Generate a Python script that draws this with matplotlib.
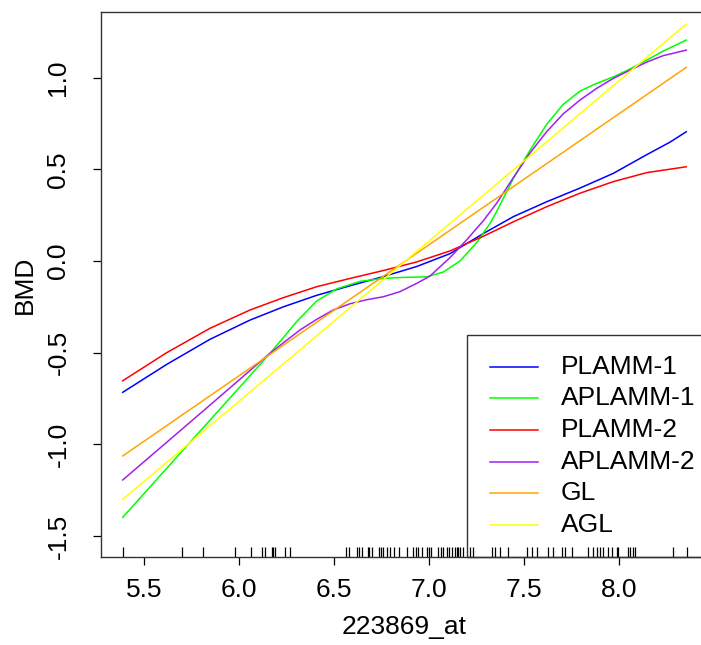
import numpy as np
import matplotlib.pyplot as plt
from matplotlib.patches import Rectangle
from matplotlib.lines import Line2D
import matplotlib.transforms as mtransforms

plt.rcParams['font.family'] = ['Liberation Sans', 'DejaVu Sans']

# fitted curves
plamm1_x = [5.388, 5.619, 5.847, 6.058, 6.233, 6.409, 6.584, 6.759, 6.935, 7.11, 7.286, 7.444, 7.619, 7.795, 7.97, 8.146, 8.268, 8.354]
plamm1_y = [-0.716, -0.564, -0.427, -0.322, -0.25, -0.187, -0.135, -0.085, -0.03, 0.04, 0.15, 0.242, 0.323, 0.398, 0.478, 0.58, 0.648, 0.705]

plamm2_x = [5.388, 5.619, 5.847, 6.058, 6.233, 6.409, 6.584, 6.759, 6.935, 7.11, 7.286, 7.444, 7.619, 7.795, 7.97, 8.146, 8.354]
plamm2_y = [-0.653, -0.50, -0.367, -0.267, -0.20, -0.14, -0.095, -0.052, -0.005, 0.055, 0.135, 0.214, 0.296, 0.37, 0.433, 0.482, 0.514]

aplamm1_x = [5.388, 5.619, 5.847, 6.093, 6.163, 6.233, 6.304, 6.409, 6.514, 6.637, 6.759, 6.847, 6.988, 7.075, 7.163,
             7.251, 7.321, 7.356, 7.444, 7.532, 7.619, 7.707, 7.795, 7.883, 7.97, 8.058, 8.146, 8.233, 8.354]
aplamm1_y = [-1.398, -1.131, -0.868, -0.585, -0.503, -0.418, -0.33, -0.218, -0.152, -0.111, -0.095, -0.090, -0.086, -0.06, 0.0,
             0.10, 0.205, 0.27, 0.45, 0.605, 0.745, 0.855, 0.927, 0.969, 1.004, 1.047, 1.096, 1.145, 1.205]

aplamm2_x = [5.388, 5.619, 5.847, 6.163, 6.321, 6.409, 6.496, 6.584, 6.672, 6.759, 6.847, 6.935, 7.005, 7.11, 7.198,
             7.286, 7.356, 7.444, 7.532, 7.619, 7.707, 7.795, 7.883, 7.97, 8.058, 8.146, 8.233, 8.354]
aplamm2_y = [-1.194, -0.989, -0.786, -0.503, -0.376, -0.318, -0.267, -0.233, -0.211, -0.195, -0.167, -0.122, -0.082, 0.018, 0.115,
             0.22, 0.315, 0.455, 0.59, 0.705, 0.803, 0.878, 0.942, 0.996, 1.041, 1.085, 1.12, 1.15]

gl_x = [5.388, 8.354]
gl_y = [-1.063, 1.056]

agl_x = [5.388, 8.354]
agl_y = [-1.30, 1.292]

# observed expression values (rug)
rug_x = [5.388, 5.700, 5.809, 5.981, 6.062, 6.119, 6.135, 6.172, 6.181, 6.189, 6.241, 6.270,
         6.562, 6.579, 6.619, 6.633, 6.649, 6.677, 6.686, 6.698, 6.738, 6.747, 6.759, 6.777,
         6.795, 6.816, 6.842, 6.883, 6.917, 6.932, 6.944, 6.962, 6.988, 7.000, 7.011, 7.049,
         7.063, 7.075, 7.093, 7.107, 7.119, 7.137, 7.146, 7.154, 7.163, 7.181, 7.216, 7.233,
         7.330, 7.347, 7.374, 7.417, 7.514, 7.541, 7.567, 7.628, 7.654, 7.698, 7.716, 7.751,
         7.838, 7.865, 7.883, 7.900, 7.917, 7.944, 7.962, 7.988, 7.996, 8.049, 8.058, 8.075,
         8.084, 8.286, 8.356]

names = ["PLAMM-1", "APLAMM-1", "PLAMM-2", "APLAMM-2", "GL", "AGL"]
colors = ["#0000FF", "#00FF00", "#FF0000", "#A020F0", "#FFA500", "#FFFF00"]
series = [(plamm1_x, plamm1_y), (aplamm1_x, aplamm1_y), (plamm2_x, plamm2_y),
          (aplamm2_x, aplamm2_y), (gl_x, gl_y), (agl_x, agl_y)]

W, H = 701, 645
fig = plt.figure(figsize=(W / 100, H / 100), dpi=100)

def fx(px):
    return px / W

def fy(py):
    return 1 - py / H

ax = fig.add_axes([fx(101), fy(557), (708 - 101) / W, (557 - 12) / H])
ax.set_xlim(5.2737, 8.4684)
ax.set_ylim(-1.614, 1.358)

for (xs, ys), c in zip(series, colors):
    ax.plot(xs, ys, color=c, lw=1.1, solid_joinstyle="round")

trans = mtransforms.blended_transform_factory(ax.transData, ax.transAxes)
ax.vlines(rug_x, 0, 10 / 545, transform=trans, color="black", lw=0.9)

ax.set_xticks([5.5, 6.0, 6.5, 7.0, 7.5, 8.0])
ax.set_xticklabels(["5.5", "6.0", "6.5", "7.0", "7.5", "8.0"])
ax.set_yticks([-1.5, -1.0, -0.5, 0.0, 0.5, 1.0])
ax.set_yticklabels(["-1.5", "-1.0", "-0.5", "0.0", "0.5", "1.0"], rotation=90, va="center")
ax.tick_params(axis="both", labelsize=19, length=6, width=0.9, color="black")
ax.tick_params(axis="x", pad=9)
ax.tick_params(axis="y", pad=16)
for s in ["left", "top", "bottom"]:
    ax.spines[s].set_linewidth(1.0)
    ax.spines[s].set_color("#333333")
ax.spines["right"].set_visible(False)

fig.text(fx(404), fy(627), "223869_at", fontsize=19, ha="center", va="center")
fig.text(fx(25), fy(285), "BMD", fontsize=19, ha="center", va="center", rotation=90)

# legend box in the lower right corner (transparent, rug shows through)
fig.patches.append(Rectangle((fx(466.7), fy(557)), (708 - 466.7) / W, (557 - 335) / H,
                             transform=fig.transFigure, fill=False,
                             edgecolor="#333333", lw=1.0, zorder=5))
row_y = [366.7, 397.7, 430, 461.7, 493.3, 525]
for name, c, ry in zip(names, colors, row_y):
    fig.lines.append(Line2D([fx(490), fx(538)], [fy(ry), fy(ry)], transform=fig.transFigure,
                            color=c, lw=1.1, zorder=6))
    fig.text(fx(561), fy(ry), name, fontsize=19, ha="left", va="center", zorder=6)

fig.savefig("out.png", dpi=100)
